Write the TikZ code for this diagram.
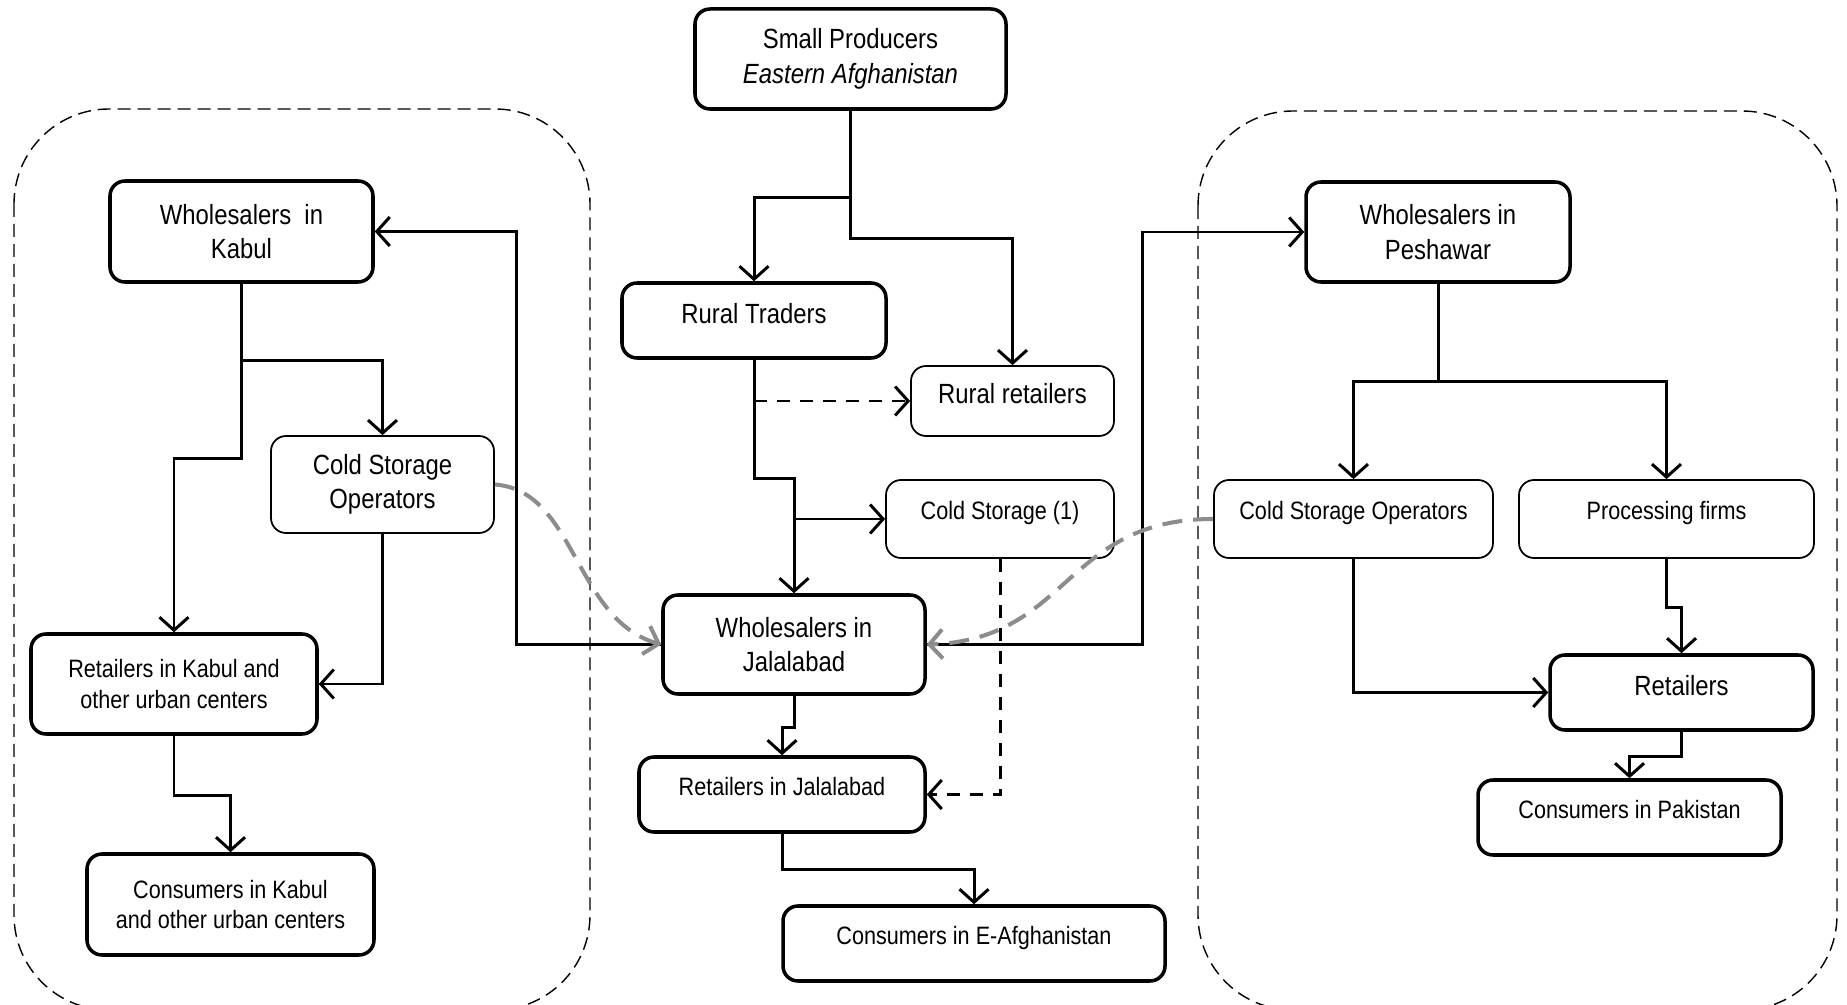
\documentclass[tikz,border=0pt]{standalone}
\usepackage{fontspec}
\setmainfont[FakeStretch=0.86]{Liberation Sans}
\usetikzlibrary{arrows.meta}
\definecolor{curvegrey}{RGB}{140,140,140}

\begin{document}
\begin{tikzpicture}[>={Straight Barb[length=0.26cm,width=0.58cm]},
    thickbox/.style={draw,line width=2pt,rounded corners=0.3cm,align=center,inner sep=2pt},
    thinbox/.style={draw,line width=1pt,rounded corners=0.3cm,align=center,inner sep=2pt},
    bigtxt/.style={font=\fontsize{15.8}{19.6}\selectfont},
    normtxt/.style={font=\fontsize{14.3}{17.5}\selectfont},
    raised/.style={text height=0.4cm,text depth=0.36cm},
    bigraised/.style={text height=0.42cm,text depth=0.3cm},
    arr/.style={->,line width=1.7pt},
    dasharr/.style={->,line width=1.7pt,dash pattern=on 0.26cm off 0.2cm},
    greyarr/.style={->,draw=curvegrey,line width=2.3pt,dash pattern=on 0.4cm off 0.22cm},
    region/.style={line width=0.8pt,dash pattern=on 0.26cm off 0.14cm,rounded corners=1.9cm}]
    \useasboundingbox (0,0) rectangle (36.94,-20.1);
    % market regions
    \draw[region] (0.28,-2.18) rectangle (11.8,-20.2);
    \draw[region] (23.96,-2.22) rectangle (36.74,-20.2);
    % centre
    \node[thickbox,bigtxt,minimum width=6.22cm,minimum height=2cm] (sp) at (17.01,-1.18) {Small Producers\\\textit{Eastern Afghanistan}};
    \node[thickbox,bigtxt,bigraised,minimum width=5.28cm,minimum height=1.5cm] (rt) at (15.08,-6.41) {Rural Traders};
    \node[thinbox,bigtxt,bigraised,minimum width=4.06cm,minimum height=1.4cm] (rr) at (20.25,-8.02) {Rural retailers};
    \node[thinbox,normtxt,raised,minimum width=4.56cm,minimum height=1.56cm] (cs1) at (20.0,-10.38) {Cold Storage (1)};
    \node[thickbox,bigtxt,minimum width=5.24cm,minimum height=1.98cm] (wj) at (15.88,-12.89) {Wholesalers in\\Jalalabad};
    \node[thickbox,normtxt,raised,minimum width=5.72cm,minimum height=1.5cm] (rj) at (15.64,-15.89) {Retailers in Jalalabad};
    \node[thickbox,normtxt,raised,minimum width=7.64cm,minimum height=1.5cm] (ce) at (19.48,-18.87) {Consumers in E-Afghanistan};
    % Kabul
    \node[thickbox,bigtxt,minimum width=5.26cm,minimum height=2.02cm] (wk) at (4.83,-4.63) {Wholesalers\ \ in\\Kabul};
    \node[thinbox,bigtxt,minimum width=4.46cm,minimum height=1.94cm] (csk) at (7.65,-9.69) {Cold Storage\\Operators};
    \node[thickbox,normtxt,minimum width=5.72cm,minimum height=2cm] (rk) at (3.48,-13.68) {Retailers in Kabul and\\other urban centers};
    \node[thickbox,normtxt,minimum width=5.74cm,minimum height=2.02cm] (ck) at (4.61,-18.09) {Consumers in Kabul\\and other urban centers};
    % Peshawar
    \node[thickbox,bigtxt,minimum width=5.28cm,minimum height=2cm] (wp) at (28.76,-4.64) {Wholesalers in\\Peshawar};
    \node[thinbox,normtxt,raised,minimum width=5.58cm,minimum height=1.56cm] (csp) at (27.07,-10.38) {Cold Storage Operators};
    \node[thinbox,normtxt,raised,minimum width=5.9cm,minimum height=1.56cm] (pf) at (33.33,-10.38) {Processing firms};
    \node[thickbox,bigtxt,bigraised,minimum width=5.26cm,minimum height=1.5cm] (rp) at (33.63,-13.85) {Retailers};
    \node[thickbox,normtxt,raised,minimum width=6.06cm,minimum height=1.5cm] (cp) at (32.59,-16.35) {Consumers in Pakistan};
    % flows
    \draw[arr] (sp.south) -- ++(0,-1.74) -| (rt.north);
    \draw[arr] (sp.south) -- ++(0,-2.56) -| (rr.north);
    \draw[dasharr] (rt.south |- rr.west) -- (rr.west);
    \draw[arr] (rt.south) -- ++(0,-2.38) -| (wj.north);
    \draw[arr] (wj.north |- cs1.west) -- (cs1.west);
    \draw[dasharr] (cs1.south) |- (rj.east);
    \draw[arr] (wj.west) -- ++(-2.9,0) |- (wk.east);
    \draw[arr] (wj.east) -- ++(4.32,0) |- (wp.west);
    \draw[arr] (wj.south) -- ++(0,-0.64) -| (rj.north);
    \draw[arr] (rj.south) -- ++(0,-0.72) -| (ce.north);
    \draw[arr] (wk.south) -- ++(0,-1.53) -| (csk.north);
    \draw[arr] (wk.south) -- ++(0,-3.49) -| (rk.north);
    \draw[arr] (csk.south) |- (rk.east);
    \draw[arr] (rk.south) -- ++(0,-1.2) -| (ck.north);
    \draw[arr] (wp.south) -- ++(0,-1.96) -| (csp.north);
    \draw[arr] (wp.south) -- ++(0,-1.96) -| (pf.north);
    \draw[arr] (csp.south) |- (rp.west);
    \draw[arr] (pf.south) -- ++(0,-0.98) -| (rp.north);
    \draw[arr] (rp.south) -- ++(0,-0.5) -| (cp.north);
    % cold storage links
    \draw[greyarr] (csk.east) .. controls +(1.62,-0.12) and +(-1.74,0.5) .. (wj.west);
    \draw[greyarr] (csp.west) .. controls +(-2.98,0) and +(2.86,0.1) .. (wj.east);
\end{tikzpicture}
\end{document}
